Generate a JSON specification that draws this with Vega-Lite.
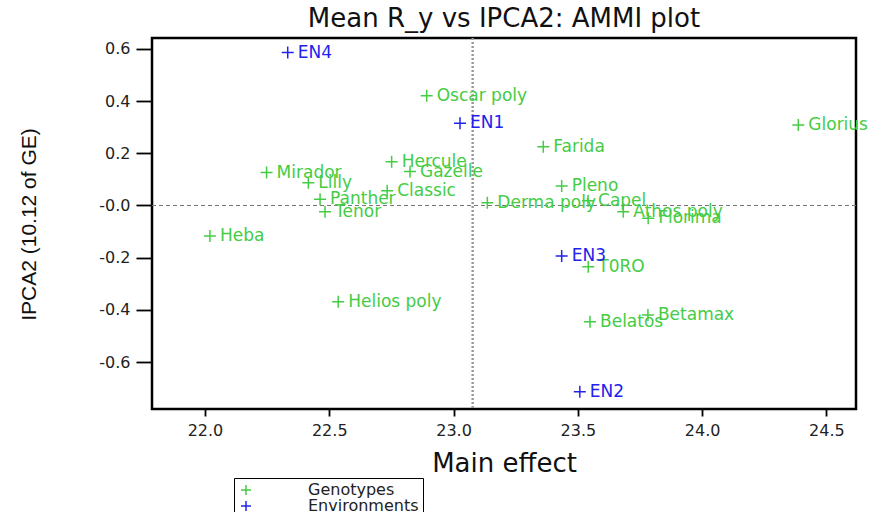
{
  "$schema": "https://vega.github.io/schema/vega-lite/v6.json",
  "autosize": {"type": "none"},
  "padding": {"left": 152, "top": 38, "right": 32, "bottom": 103},
  "width": 704,
  "height": 371,
  "background": "white",
  "title": {
    "text": "Mean R_y vs IPCA2: AMMI plot",
    "font": "DejaVu Sans",
    "fontSize": 26,
    "fontWeight": "normal",
    "color": "#111",
    "anchor": "middle",
    "offset": 5
  },
  "config": {
    "view": {"stroke": "black", "strokeWidth": 2.5},
    "axis": {
      "grid": false,
      "domain": false,
      "tickColor": "black",
      "tickWidth": 1.8,
      "labelFont": "DejaVu Sans",
      "labelFontSize": 16,
      "labelColor": "#222",
      "titleFont": "DejaVu Sans",
      "titleFontWeight": "normal",
      "titleColor": "#111"
    }
  },
  "layer": [
    {
      "data": {"values": [{"mean": 23.077}]},
      "mark": {"type": "rule", "color": "#999", "strokeWidth": 2.5, "strokeDash": [2, 2]},
      "encoding": {"x": {"field": "mean", "type": "quantitative"}}
    },
    {
      "data": {"values": [{"zero": 0}]},
      "mark": {"type": "rule", "color": "#777", "strokeWidth": 1, "strokeDash": [4, 3]},
      "encoding": {"y": {"field": "zero", "type": "quantitative"}}
    },
    {
      "data": {"name": "pts"},
      "mark": {"type": "point", "shape": "M-1,0L1,0M0,-1L0,1", "size": 144, "filled": false, "strokeWidth": 1.5, "opacity": 1},
      "encoding": {
        "x": {
          "field": "main", "type": "quantitative",
          "scale": {"domain": [21.787, 24.619], "nice": false, "zero": false},
          "axis": {
            "title": "Main effect", "titleFontSize": 26,
            "values": [22.0, 22.5, 23.0, 23.5, 24.0, 24.5],
            "format": ".1f", "tickSize": 7, "labelPadding": 6,
            "titleY": 54, "titleBaseline": "middle"
          }
        },
        "y": {
          "field": "ipca2", "type": "quantitative",
          "scale": {"domain": [-0.780, 0.642], "nice": false, "zero": false},
          "axis": {
            "title": "IPCA2 (10.12 of GE)", "titleFontSize": 21, "titleFont": "Liberation Sans",
            "values": [-0.6, -0.4, -0.2, 0, 0.2, 0.4, 0.6],
            "labelExpr": "datum.value == 0 ? '-0.0' : (datum.value < 0 ? '-' + format(-datum.value, '.1f') : format(datum.value, '.1f'))",
            "tickSize": 16, "labelPadding": 6,
            "titleX": -123, "titleY": 186, "titleAngle": -90, "titleAlign": "center", "titleBaseline": "middle"
          }
        },
        "color": {
          "field": "type", "type": "nominal",
          "scale": {"domain": ["Genotypes", "Environments"], "range": ["#44cc44", "#2222ee"]},
          "legend": {
            "title": null,
            "orient": "none",
            "legendX": 82,
            "legendY": 440,
            "strokeColor": "black",
            "padding": 4,
            "symbolType": "M-1,0L1,0M0,-1L0,1",
            "symbolSize": 100,
            "symbolStrokeWidth": 1.5,
            "labelFont": "DejaVu Sans",
            "labelFontSize": 16,
            "labelColor": "#222",
            "labelOffset": 54,
            "rowPadding": -5,
            "labelLimit": 300
          }
        }
      }
    },
    {
      "data": {"name": "pts"},
      "mark": {"type": "text", "align": "left", "baseline": "middle", "dx": 10, "font": "DejaVu Sans", "fontSize": 17},
      "encoding": {
        "x": {"field": "main", "type": "quantitative"},
        "y": {"field": "ipca2", "type": "quantitative"},
        "text": {"field": "label"},
        "color": {"field": "type", "type": "nominal"}
      }
    }
  ],
  "datasets": {
    "pts": [
      {"label": "Oscar poly", "type": "Genotypes", "main": 22.892, "ipca2": 0.421},
      {"label": "Hercule", "type": "Genotypes", "main": 22.751, "ipca2": 0.168},
      {"label": "Gazelle", "type": "Genotypes", "main": 22.825, "ipca2": 0.130},
      {"label": "Mirador", "type": "Genotypes", "main": 22.248, "ipca2": 0.126},
      {"label": "Lilly", "type": "Genotypes", "main": 22.416, "ipca2": 0.087},
      {"label": "Classic", "type": "Genotypes", "main": 22.733, "ipca2": 0.057},
      {"label": "Panther", "type": "Genotypes", "main": 22.463, "ipca2": 0.024},
      {"label": "Tenor", "type": "Genotypes", "main": 22.483, "ipca2": -0.024},
      {"label": "Heba", "type": "Genotypes", "main": 22.020, "ipca2": -0.117},
      {"label": "Helios poly", "type": "Genotypes", "main": 22.536, "ipca2": -0.369},
      {"label": "Derma poly", "type": "Genotypes", "main": 23.136, "ipca2": 0.011},
      {"label": "Capel", "type": "Genotypes", "main": 23.541, "ipca2": 0.018},
      {"label": "Farida", "type": "Genotypes", "main": 23.361, "ipca2": 0.225},
      {"label": "Pleno", "type": "Genotypes", "main": 23.435, "ipca2": 0.075},
      {"label": "Glorius", "type": "Genotypes", "main": 24.387, "ipca2": 0.309},
      {"label": "Athos poly", "type": "Genotypes", "main": 23.683, "ipca2": -0.024},
      {"label": "Florima", "type": "Genotypes", "main": 23.783, "ipca2": -0.049},
      {"label": "T0RO", "type": "Genotypes", "main": 23.542, "ipca2": -0.235},
      {"label": "Betamax", "type": "Genotypes", "main": 23.782, "ipca2": -0.420},
      {"label": "Belatos", "type": "Genotypes", "main": 23.549, "ipca2": -0.446},
      {"label": "EN1", "type": "Environments", "main": 23.026, "ipca2": 0.315},
      {"label": "EN2", "type": "Environments", "main": 23.508, "ipca2": -0.714},
      {"label": "EN3", "type": "Environments", "main": 23.435, "ipca2": -0.194},
      {"label": "EN4", "type": "Environments", "main": 22.333, "ipca2": 0.586}
    ]
  }
}
